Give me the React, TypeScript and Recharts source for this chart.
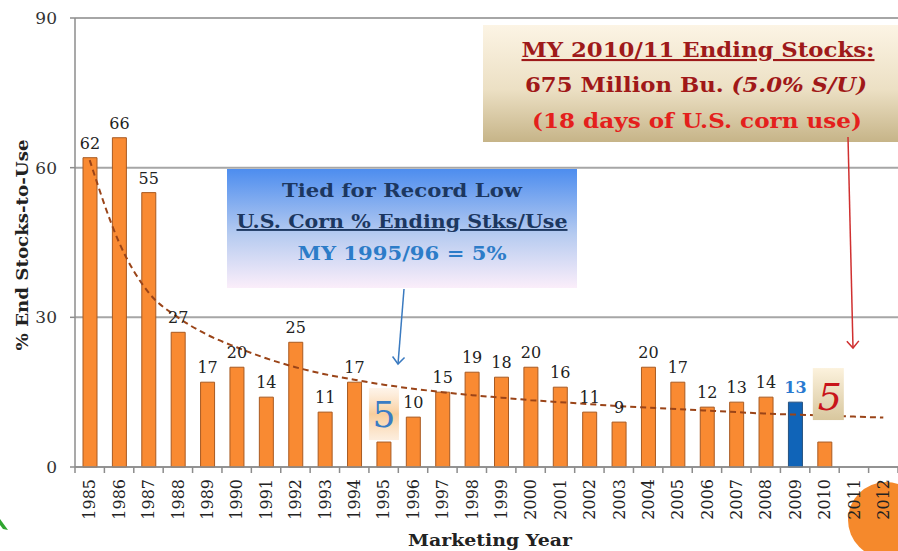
import React from "react";
import {
  ComposedChart,
  Bar,
  Line,
  Cell,
  XAxis,
  YAxis,
  CartesianGrid,
  LabelList,
} from "recharts";

const years = [
  "1985", "1986", "1987", "1988", "1989", "1990", "1991", "1992", "1993", "1994",
  "1995", "1996", "1997", "1998", "1999", "2000", "2001", "2002", "2003", "2004",
  "2005", "2006", "2007", "2008", "2009", "2010", "2011", "2012",
];

const stocksToUse = [
  62, 66, 55, 27, 17, 20, 14, 25, 11, 17,
  5, 10, 15, 19, 18, 20, 16, 11, 9, 20,
  17, 12, 13, 14, 13, 5, null, null,
];

// dashed trend line
const trendLine = [
  61.5, 45, 35, 30, 26.5, 24, 21.8, 20, 18.6, 17.5,
  16.5, 15.7, 15, 14.4, 13.9, 13.4, 13, 12.6, 12.2, 11.9,
  11.6, 11.3, 11, 10.7, 10.5, 10.3, 10.1, 9.9,
];

const yTicks = [0, 30, 60, 90];

const data = years.map((year, i) => ({
  year,
  value: stocksToUse[i],
  trend: trendLine[i],
}));

const FONT = "'DejaVu Serif', serif";
const PLOT_WIDTH = 898 - 75;
const BAND = PLOT_WIDTH / years.length;

const YearTick = (props: any) => {
  const { x, y, payload, index } = props;
  const half = payload && payload.offset ? payload.offset : BAND / 2;
  return (
    <g>
      <line x1={x - half} y1={y} x2={x - half} y2={y + 6} stroke="#8c8c8c" strokeWidth={1.5} />
      {index === years.length - 1 && (
        <line x1={x + half} y1={y} x2={x + half} y2={y + 6} stroke="#8c8c8c" strokeWidth={1.5} />
      )}
      <text
        x={x}
        y={y + 12}
        dy="0.36em"
        transform={`rotate(-90, ${x}, ${y + 12})`}
        textAnchor="end"
        fontFamily={FONT}
        fontSize={16}
        fill="#222"
      >
        {payload.value}
      </text>
    </g>
  );
};

const BarValueLabel = (props: any) => {
  const { x, y, width, value, index } = props;
  if (value == null) return null;
  const cx = Number(x) + Number(width) / 2;
  const top = Number(y);
  if (index === 10) {
    return (
      <g>
        <rect x={cx - 15} y={top - 54} width={30} height={52} fill="url(#glow5)" />
        <text x={cx} y={top - 15} textAnchor="middle" fontFamily={FONT} fontSize={36} fill="#3a7cc4">
          {value}
        </text>
      </g>
    );
  }
  if (index === 25) {
    return (
      <g>
        <rect x={Number(x) - 5} y={top - 74} width={31} height={52} fill="url(#beige5)" />
        <text
          x={Number(x) + 12}
          y={top - 32}
          textAnchor="middle"
          fontFamily={FONT}
          fontStyle="italic"
          fontSize={38}
          fill="#c8141a"
        >
          {value}
        </text>
      </g>
    );
  }
  const blue = index === 24;
  return (
    <text
      x={cx}
      y={top - 9}
      textAnchor="middle"
      fontFamily={FONT}
      fontSize={16}
      fontWeight={blue ? "bold" : "normal"}
      fill={blue ? "#2a7ad0" : "#222"}
    >
      {value}
    </text>
  );
};

const App = () => (
  <div
    style={{
      position: "absolute",
      left: 0,
      top: 0,
      width: 898,
      height: 551,
      overflow: "hidden",
      background: "#fff",
    }}
  >
    <div
      style={{
        position: "absolute",
        left: 848,
        top: 482,
        width: 76,
        height: 76,
        borderRadius: "50%",
        background: "#f5892c",
      }}
    />
    <ComposedChart
      width={898}
      height={551}
      data={data}
      margin={{ top: 18, right: 0, left: 0, bottom: 0 }}
      barSize={14}
    >
      <defs>
        <linearGradient id="glow5" x1="0" y1="0" x2="0" y2="1">
          <stop offset="0%" stopColor="#fde9d4" stopOpacity={0.5} />
          <stop offset="50%" stopColor="#f8c890" stopOpacity={0.9} />
          <stop offset="100%" stopColor="#fbe2c8" stopOpacity={0.6} />
        </linearGradient>
        <linearGradient id="beige5" x1="0" y1="0" x2="0" y2="1">
          <stop offset="0%" stopColor="#fcf2dd" />
          <stop offset="100%" stopColor="#d8c79e" />
        </linearGradient>
      </defs>
      <CartesianGrid vertical={false} stroke="#a6a6a6" strokeWidth={2} />
      <XAxis
        dataKey="year"
        interval={0}
        height={84}
        tickLine={false}
        tickSize={0}
        tickMargin={0}
        axisLine={{ stroke: "#8c8c8c", strokeWidth: 1.5 }}
        tick={<YearTick />}
      />
      <YAxis
        domain={[0, 90]}
        ticks={yTicks}
        width={75}
        tickSize={5}
        tickMargin={13}
        axisLine={{ stroke: "#8c8c8c", strokeWidth: 1.5 }}
        tickLine={{ stroke: "#8c8c8c", strokeWidth: 1.5 }}
        tick={{ fontFamily: FONT, fontSize: 17, fill: "#333" }}
      />
      <Bar dataKey="value" isAnimationActive={false} stroke="#a85a22" strokeWidth={1}>
        {data.map((d, i) => (
          <Cell
            key={d.year}
            fill={i === 24 ? "#1064b8" : "#f98a32"}
            stroke={i === 24 ? "#25507e" : "#a85a22"}
          />
        ))}
        <LabelList dataKey="value" content={<BarValueLabel />} />
      </Bar>
      <Line
        dataKey="trend"
        type="monotone"
        stroke="#9a4418"
        strokeWidth={2}
        strokeDasharray="6 4"
        dot={false}
        activeDot={false}
        isAnimationActive={false}
      />
    </ComposedChart>
    <svg
      width={898}
      height={551}
      style={{ position: "absolute", left: 0, top: 0, pointerEvents: "none" }}
    >
      <defs>
        <linearGradient id="blueBox" x1="0" y1="0" x2="0" y2="1">
          <stop offset="0%" stopColor="#4d8def" />
          <stop offset="55%" stopColor="#b6cbf0" />
          <stop offset="100%" stopColor="#fbeefa" />
        </linearGradient>
        <linearGradient id="beigeBox" x1="0" y1="0" x2="0" y2="1">
          <stop offset="0%" stopColor="#fcf4e4" />
          <stop offset="55%" stopColor="#ece0c4" />
          <stop offset="100%" stopColor="#c6b488" />
        </linearGradient>
        <marker id="arrowBlue" markerWidth="14" markerHeight="14" refX="12" refY="7" orient="auto" markerUnits="userSpaceOnUse" viewBox="0 0 14 14">
          <path d="M5 1 L12 7 L5 13" fill="none" stroke="#3a7ac0" strokeWidth={1.5} />
        </marker>
        <marker id="arrowRed" markerWidth="14" markerHeight="14" refX="12" refY="7" orient="auto" markerUnits="userSpaceOnUse" viewBox="0 0 14 14">
          <path d="M5 1 L12 7 L5 13" fill="none" stroke="#d03030" strokeWidth={1.5} />
        </marker>
      </defs>

      {/* axis titles */}
      <text
        x={22}
        y={245}
        transform="rotate(-90, 22, 245)"
        textAnchor="middle"
        dy="0.36em"
        fontFamily={FONT}
        fontWeight="bold"
        fontSize={17}
        fill="#222"
        textLength={211}
        lengthAdjust="spacingAndGlyphs"
      >
        % End Stocks-to-Use
      </text>
      <text
        x={490}
        y={546}
        textAnchor="middle"
        fontFamily={FONT}
        fontWeight="bold"
        fontSize={17}
        fill="#222"
        textLength={164}
        lengthAdjust="spacingAndGlyphs"
      >
        Marketing Year
      </text>

      {/* record low callout */}
      <rect x={227} y={169} width={350} height={119} fill="url(#blueBox)" />
      <text x={402} y={197} textAnchor="middle" fontFamily={FONT} fontWeight="bold" fontSize={19} fill="#1c3760" textLength={240} lengthAdjust="spacingAndGlyphs">
        Tied for Record Low
      </text>
      <text x={402} y={228} textAnchor="middle" fontFamily={FONT} fontWeight="bold" fontSize={19} fill="#1c3760" textDecoration="underline" textLength={331} lengthAdjust="spacingAndGlyphs">
        U.S. Corn % Ending Stks/Use
      </text>
      <text x={402} y={260} textAnchor="middle" fontFamily={FONT} fontWeight="bold" fontSize={19} fill="#2c7cc8" textLength={209} lengthAdjust="spacingAndGlyphs">
        MY 1995/96 = 5%
      </text>
      <line x1={404} y1={289} x2={398} y2={364} stroke="#3a7ac0" strokeWidth={1.5} markerEnd="url(#arrowBlue)" />

      {/* ending stocks callout */}
      <rect x={483} y={25} width={420} height={117} fill="url(#beigeBox)" />
      <text x={698} y={57} textAnchor="middle" fontFamily={FONT} fontWeight="bold" fontSize={21} fill="#9e1a1a" textDecoration="underline" textLength={353} lengthAdjust="spacingAndGlyphs">
        MY 2010/11 Ending Stocks:
      </text>
      <text x={696} y={92} textAnchor="middle" fontFamily={FONT} fontWeight="bold" fontSize={21} fill="#a01818" textLength={342} lengthAdjust="spacingAndGlyphs">
        675 Million Bu. <tspan fontStyle="italic">(5.0% S/U)</tspan>
      </text>
      <text x={697} y={128} textAnchor="middle" fontFamily={FONT} fontWeight="bold" fontSize={21} fill="#e4201c" textLength={330} lengthAdjust="spacingAndGlyphs">
        (18 days of U.S. corn use)
      </text>
      <line x1={848} y1={137} x2={853} y2={348} stroke="#d03030" strokeWidth={1.5} markerEnd="url(#arrowRed)" />

      {/* slide corner mark */}
      <path d="M0 519 L8 530 L3 529 L0 525 Z" fill="#2fa52f" />
    </svg>
  </div>
);

export default App;
